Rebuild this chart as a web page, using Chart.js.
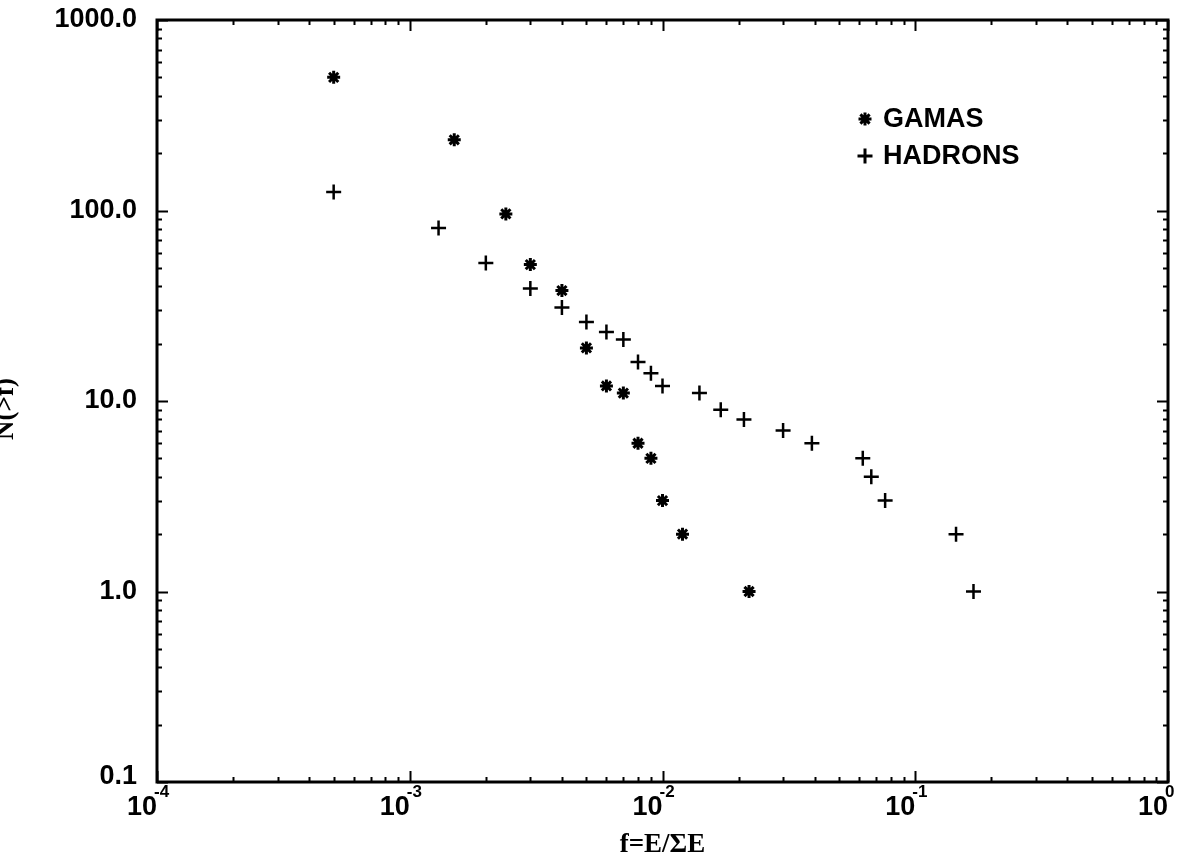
<!DOCTYPE html>
<html>
<head>
<meta charset="utf-8">
<script src="https://cdn.jsdelivr.net/npm/chart.js@4/dist/chart.umd.min.js"></script>
<style>
    html, body { margin: 0; padding: 0; background: #fff; }
    #wrap { width: 1194px; height: 859px; }
</style>
</head>
<body>
<div id="wrap"><canvas id="myChart" width="1194" height="859"></canvas></div>
<script>
// values, f = E / sum E  vs  N(>f)
const gamasF = [5.0e-4, 1.5e-3, 2.4e-3, 3.0e-3, 4.0e-3, 5.0e-3, 6.0e-3, 7.0e-3, 8.0e-3, 9.0e-3, 1.0e-2, 1.2e-2, 2.2e-2];
const gamasN = [500, 235, 96, 52, 38, 19, 12, 11, 6, 5, 3, 2, 1];

const hadronsF = [5.0e-4, 1.3e-3, 2.0e-3, 3.0e-3, 4.0e-3, 5.0e-3, 6.0e-3, 7.0e-3, 8.0e-3, 9.0e-3, 1.0e-2,
                  1.4e-2, 1.7e-2, 2.1e-2, 3.0e-2, 3.9e-2, 6.2e-2, 6.7e-2, 7.6e-2, 1.45e-1, 1.7e-1];
const hadronsN = [125, 81, 53, 39, 31, 26, 23, 21, 16, 14, 12, 11, 9, 8, 7, 6, 5, 4, 3, 2, 1];

const xTickValues = [1e-4, 1e-3, 1e-2, 1e-1, 1];
const xTickExp = ['-4', '-3', '-2', '-1', '0'];
const yTickValues = [0.1, 1, 10, 100, 1000];
const yTickLabels = ['0.1', '1.0', '10.0', '100.0', '1000.0'];

const xTitle = 'f=E/\u03A3E';
const yTitle = 'N(>f)';

(function () {

    let toPoints = function (xs, ys) {
        return xs.map(function (x, i) { return { x: x, y: ys[i] }; });
    };

    let isDecade = function (v) {
        let l = Math.log10(v);
        return Math.abs(l - Math.round(l)) < 1e-9;
    };

    // 1..9 x 10^n ticks for every decade
    let logTicks = function (scale) {
        let t = [];
        let e0 = Math.round(Math.log10(scale.min));
        let e1 = Math.round(Math.log10(scale.max));
        for (let e = e0; e < e1; e++) {
            for (let k = 1; k < 10; k++) {
                t.push({ value: k * Math.pow(10, e) });
            }
        }
        t.push({ value: Math.pow(10, e1) });
        scale.ticks = t;
    };

    const sansBold = 'bold 27px "Liberation Sans", Arial, sans-serif';
    const serifBold = 'bold 27px "Liberation Serif", "Times New Roman", serif';

    let framePlugin = {
        id: 'frame',
        afterDraw: function (chart) {
            const ctx = chart.ctx;
            const a = chart.chartArea;
            const xs = chart.scales.x;
            const ys = chart.scales.y;

            ctx.save();
            ctx.strokeStyle = '#000';
            ctx.fillStyle = '#000';

            // inward tick marks on all four sides
            ctx.lineWidth = 2;
            ctx.beginPath();
            xs.ticks.forEach(function (t) {
                let px = Math.round(xs.getPixelForValue(t.value)) + 0.5;
                let len = isDecade(t.value) ? 11 : 5;
                ctx.moveTo(px, a.bottom);
                ctx.lineTo(px, a.bottom - len);
                ctx.moveTo(px, a.top);
                ctx.lineTo(px, a.top + len);
            });
            ys.ticks.forEach(function (t) {
                let py = Math.round(ys.getPixelForValue(t.value)) + 0.5;
                let len = isDecade(t.value) ? 11 : 5;
                ctx.moveTo(a.left, py);
                ctx.lineTo(a.left + len, py);
                ctx.moveTo(a.right, py);
                ctx.lineTo(a.right - len, py);
            });
            ctx.stroke();

            ctx.lineWidth = 3;
            ctx.strokeRect(a.left, a.top, a.right - a.left, a.bottom - a.top);

            // y tick labels
            ctx.font = sansBold;
            ctx.textAlign = 'right';
            ctx.textBaseline = 'middle';
            yTickValues.forEach(function (v, i) {
                let py = ys.getPixelForValue(v);
                if (i === 0) py -= 5;
                ctx.fillText(yTickLabels[i], a.left - 20, py);
            });

            // x tick labels 10^n
            ctx.textBaseline = 'alphabetic';
            xTickValues.forEach(function (v, i) {
                let px = xs.getPixelForValue(v);
                ctx.font = sansBold;
                ctx.textAlign = 'right';
                ctx.fillText('10', px, 815);
                ctx.font = 'bold 17px "Liberation Sans", Arial, sans-serif';
                ctx.textAlign = 'left';
                ctx.fillText(xTickExp[i], px - 3, 797);
            });

            // axis titles
            ctx.font = serifBold;
            ctx.textAlign = 'center';
            ctx.fillText(xTitle, (a.left + a.right) / 2, 852);

            ctx.save();
            ctx.translate(13, 409);
            ctx.rotate(-Math.PI / 2);
            ctx.fillText(yTitle, 0, 0);
            ctx.restore();

            // legend
            const legX = 865;
            const legY = [119, 156];
            ctx.font = sansBold;
            ctx.textAlign = 'left';
            ctx.textBaseline = 'middle';
            chart.data.datasets.forEach(function (ds, i) {
                Chart.helpers.drawPoint(ctx, {
                    pointStyle: ds.pointStyle,
                    radius: ds.pointRadius,
                    borderWidth: ds.borderWidth,
                    rotation: 0
                }, legX, legY[i]);
                ctx.fillText(ds.label, legX + 18, legY[i] + 1);
            });

            ctx.restore();
        }
    };

    const ctx = document.getElementById('myChart');

    let chart = new Chart(ctx, {
        type: 'scatter',
        data: {
            datasets: [
                {
                    label: 'GAMAS',
                    data: toPoints(gamasF, gamasN),
                    pointStyle: 'star',
                    pointRadius: 6.5,
                    borderWidth: 3,
                    borderColor: '#000',
                    backgroundColor: '#000'
                },
                {
                    label: 'HADRONS',
                    data: toPoints(hadronsF, hadronsN),
                    pointStyle: 'cross',
                    pointRadius: 7.5,
                    borderWidth: 2.5,
                    borderColor: '#000',
                    backgroundColor: '#000'
                }
            ]
        },
        options: {
            animation: false,
            responsive: false,
            events: [],
            layout: {
                padding: { top: 20, right: 26, left: 0, bottom: 0 }
            },
            plugins: {
                legend: { display: false },
                tooltip: { enabled: false }
            },
            scales: {
                x: {
                    type: 'logarithmic',
                    min: 1e-4,
                    max: 1,
                    grid: { display: false },
                    border: { display: false },
                    ticks: { display: false },
                    afterBuildTicks: logTicks,
                    afterFit: function (s) { s.height = 77; }
                },
                y: {
                    type: 'logarithmic',
                    min: 0.1,
                    max: 1000,
                    grid: { display: false },
                    border: { display: false },
                    ticks: { display: false },
                    afterBuildTicks: logTicks,
                    afterFit: function (s) { s.width = 157; }
                }
            }
        },
        plugins: [framePlugin]
    });

})();
</script>
</body>
</html>
